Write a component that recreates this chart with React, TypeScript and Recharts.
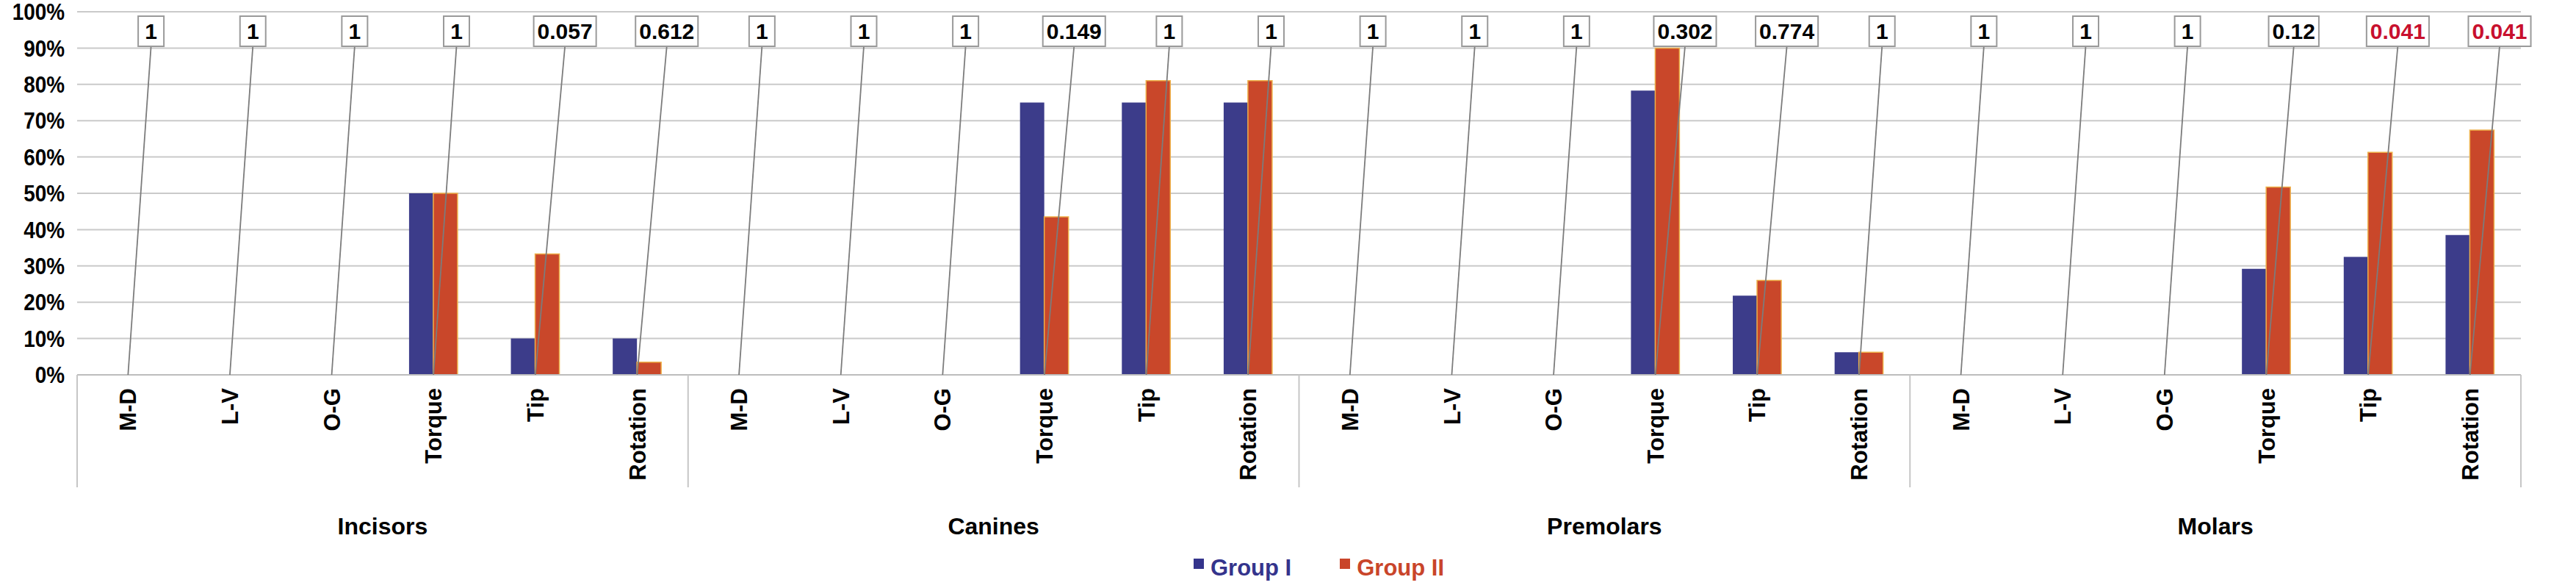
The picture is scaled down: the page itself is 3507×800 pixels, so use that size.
import React from "react";
import { Bar, CartesianGrid, ComposedChart, LabelList, Legend, Line, XAxis, YAxis } from "recharts";

const W = 3507;
const H = 800;
const FONT = "'Liberation Sans', Arial, sans-serif";

// plot box (pixels) of the reference
const PLOT_LEFT = 105;
const PLOT_RIGHT = 3432;
const BASELINE = 510;
const AXIS_BOTTOM = 663;

const TOOTH_GROUPS = ["Incisors", "Canines", "Premolars", "Molars"];
const MOVEMENTS = ["M-D", "L-V", "O-G", "Torque", "Tip", "Rotation"];

// share of cases, in tooth group order, 6 movements each
const GROUP_I = [
  0, 0, 0, 0.5, 0.1, 0.1,
  0, 0, 0, 0.75, 0.75, 0.75,
  0, 0, 0, 0.783, 0.218, 0.062,
  0, 0, 0, 0.292, 0.325, 0.385,
];
const GROUP_II = [
  0, 0, 0, 0.5, 0.333, 0.035,
  0, 0, 0, 0.435, 0.81, 0.81,
  0, 0, 0, 0.9, 0.26, 0.062,
  0, 0, 0, 0.517, 0.613, 0.674,
];
const P_VALUES = [
  1, 1, 1, 1, 0.057, 0.612,
  1, 1, 1, 0.149, 1, 1,
  1, 1, 1, 0.302, 0.774, 1,
  1, 1, 1, 0.12, 0.041, 0.041,
];
const Y_TICKS = [0, 0.1, 0.2, 0.3, 0.4, 0.5, 0.6, 0.7, 0.8, 0.9, 1];

const ROWS = GROUP_I.map((g1, i) => ({
  key: `${TOOTH_GROUPS[Math.floor(i / 6)]}-${MOVEMENTS[i % 6]}`,
  name: MOVEMENTS[i % 6],
  group: TOOTH_GROUPS[Math.floor(i / 6)],
  g1,
  g2: GROUP_II[i],
  p: P_VALUES[i],
}));

const BAND = (PLOT_RIGHT - PLOT_LEFT) / ROWS.length;

function PctTick({ y, payload }: any) {
  return (
    <text
      transform={`translate(88,${y}) scale(0.9,1)`}
      textAnchor="end"
      dy="0.36em"
      fontSize={31}
      fontWeight="bold"
      fontFamily={FONT}
      fill="#000"
    >
      {`${Math.round(payload.value * 100)}%`}
    </text>
  );
}

function MoveTick({ x, index }: any) {
  const row = ROWS[index];
  if (!row) return null;
  const sep = { stroke: "#c6c6c6", strokeWidth: 2 };
  return (
    <g>
      {index % 6 === 0 && <line x1={x - BAND / 2} x2={x - BAND / 2} y1={BASELINE} y2={AXIS_BOTTOM} {...sep} />}
      {index === ROWS.length - 1 && <line x1={x + BAND / 2} x2={x + BAND / 2} y1={BASELINE} y2={AXIS_BOTTOM} {...sep} />}
      <text
        transform={`translate(${x},528) rotate(-90)`}
        textAnchor="end"
        dy="0.36em"
        fontSize={31}
        fontWeight="bold"
        fontFamily={FONT}
        fill="#000"
      >
        {row.name}
      </text>
      {index % 6 === 2 && (
        <text
          x={x + BAND / 2}
          y={715}
          textAnchor="middle"
          dy="0.36em"
          fontSize={32}
          fontWeight="bold"
          fontFamily={FONT}
          fill="#000"
        >
          {row.group}
        </text>
      )}
    </g>
  );
}

function textWidth(s: string, fs: number) {
  let w = 0;
  for (const ch of s) w += ch === "." ? 0.278 : 0.556;
  return w * fs;
}

// p-value box with its leader line down to the category's baseline
function PLabel(props: any) {
  const { x, index, value } = props;
  const cx = Number.isFinite(Number(x)) ? Number(x) : PLOT_LEFT + (index + 0.5) * BAND;
  const label = String(value);
  const fs = 30;
  const w = Math.max(35, textWidth(label, fs) + 10);
  const bx = cx + 25 + 0.18 * w;
  const top = 22;
  const h = 41;
  return (
    <g>
      <line x1={bx} y1={top + h} x2={cx} y2={BASELINE} stroke="#7c7c7c" strokeWidth={1.8} />
      <rect x={bx - w / 2} y={top} width={w} height={h} fill="#fff" stroke="#9a9a9a" strokeWidth={2} />
      <text
        x={bx}
        y={top + h / 2}
        textAnchor="middle"
        dy="0.36em"
        fontSize={fs}
        fontWeight="bold"
        fontFamily={FONT}
        fill={value < 0.05 ? "#c8102e" : "#000"}
      >
        {label}
      </text>
    </g>
  );
}

function LegendBox() {
  const item = (color: string, text: string, gap: number) => (
    <div style={{ display: "flex", alignItems: "center", marginRight: gap }}>
      <div style={{ width: 14, height: 14, background: color, marginRight: 9, position: "relative", top: -6 }} />
      <span style={{ color, fontSize: 31, fontWeight: "bold", fontFamily: FONT }}>{text}</span>
    </div>
  );
  return (
    <div style={{ display: "flex", alignItems: "center", height: 55, paddingLeft: 1625 }}>
      {item("#34348c", "Group I", 66)}
      {item("#c9452a", "Group II", 0)}
    </div>
  );
}

export default function App() {
  return (
    <div style={{ position: "absolute", left: 0, top: 0, width: W, height: H, background: "#fff" }}>
      <ComposedChart
        width={W}
        height={H}
        data={ROWS}
        margin={{ top: 16, right: W - PLOT_RIGHT, bottom: 0, left: 0 }}
        barCategoryGap="26%"
        barGap={0}
      >
        <CartesianGrid horizontal vertical={false} stroke="#cacaca" strokeWidth={2} />
        <XAxis
          dataKey="key"
          interval={0}
          height={235}
          tickLine={false}
          axisLine={{ stroke: "#bdbdbd", strokeWidth: 2 }}
          tick={<MoveTick />}
        />
        <YAxis
          width={PLOT_LEFT}
          domain={[0, 1]}
          ticks={Y_TICKS}
          axisLine={false}
          tickLine={false}
          tick={<PctTick />}
        />
        <Legend verticalAlign="bottom" wrapperStyle={{ left: 0, width: W }} content={<LegendBox />} />
        <Bar dataKey="g1" name="Group I" fill="#3c3c8a" isAnimationActive={false} />
        <Bar dataKey="g2" name="Group II" fill="#c9472a" stroke="#eeb049" strokeWidth={1.5} isAnimationActive={false} />
        <Line
          dataKey="g2"
          name="p"
          stroke="none"
          dot={false}
          activeDot={false}
          legendType="none"
          isAnimationActive={false}
        >
          <LabelList dataKey="p" content={<PLabel />} />
        </Line>
      </ComposedChart>
    </div>
  );
}
